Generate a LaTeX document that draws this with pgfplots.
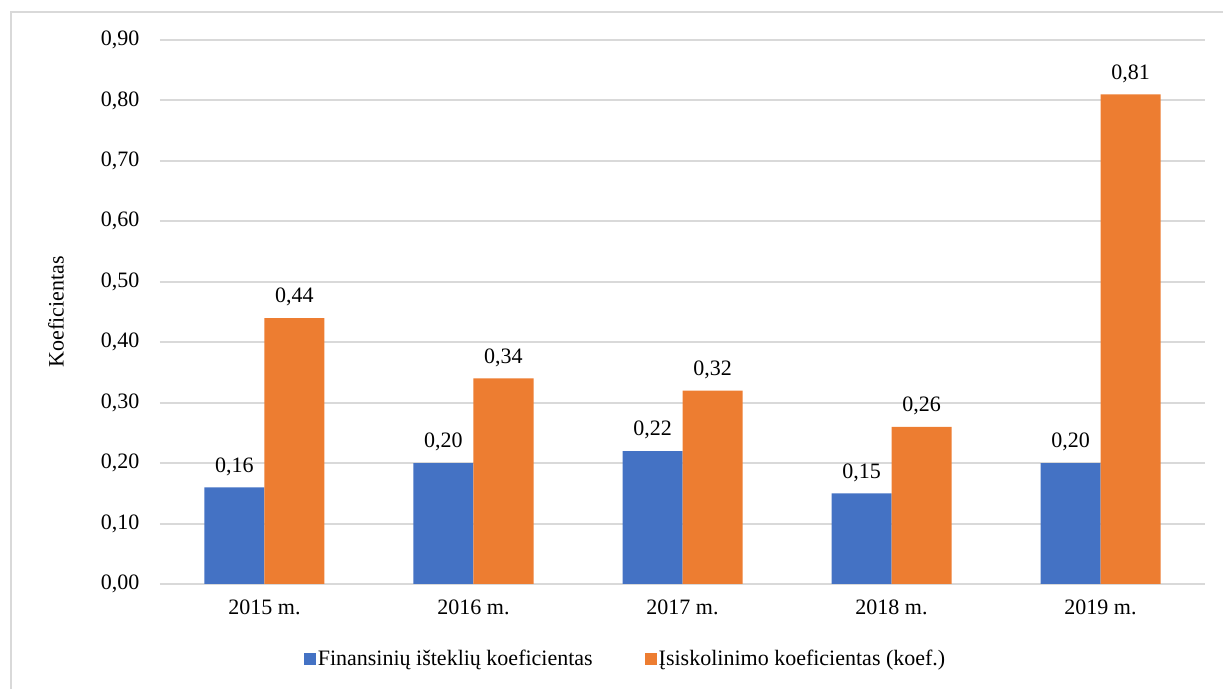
\documentclass[border=0pt]{standalone}
\usepackage{fontspec}
\setmainfont{Liberation Serif}
\usepackage{pgfplots}
\pgfplotsset{compat=1.18}
\definecolor{serA}{HTML}{4472C4}
\definecolor{serB}{HTML}{ED7D31}
\definecolor{gridgray}{HTML}{D9D9D9}
\pgfkeys{/pgf/number format/commafix/.style={
  /pgf/number format/fixed, /pgf/number format/fixed zerofill,
  /pgf/number format/precision=2, /pgf/number format/use comma,
  /pgf/number format/assume math mode=true}}
\begin{document}
\fontsize{11}{13.2}\selectfont
\begin{tikzpicture}[x=0.5pt,y=0.5pt]
\useasboundingbox (0,0) rectangle (1223,689);
% chart frame
\draw[gridgray, line width=1pt] (11,0) -- (11,677) -- (1223,677);
\begin{axis}[
  at={(80pt,52.5pt)}, anchor=south west,
  scale only axis, width=522.5pt, height=272pt,
  ybar=0pt, bar width=30pt,
  xmin=-0.5, xmax=4.5, ymin=0, ymax=0.9,
  xtick={0,1,2,3,4},
  xticklabels={2015 m.,2016 m.,2017 m.,2018 m.,2019 m.},
  ytick={0,0.1,0.2,0.3,0.4,0.5,0.6,0.7,0.8,0.9},
  yticklabel style={/pgf/number format/commafix, xshift=-6.5pt},
  xticklabel style={yshift=-4pt},
  major tick length=0pt,
  axis line style={draw=none},
  ymajorgrids, grid style={gridgray, line width=1pt},
  ylabel={Koeficientas},
  ylabel style={at={(axis description cs:-0.0995,0.5)}, anchor=center},
  nodes near coords,
  nodes near coords style={/pgf/number format/commafix, yshift=2pt, black},
  legend columns=2,
  legend style={at={(axis description cs:0.4455,-0.1379)}, anchor=center, draw=none, fill=none,
    nodes={inner xsep=1pt},
    /tikz/every even column/.append style={column sep=25pt}},
  legend image code/.code={\fill[#1] (0pt,-3pt) rectangle (6pt,3pt);},
]
\addplot[fill=serA, draw=none] coordinates {(0,0.16) (1,0.20) (2,0.22) (3,0.15) (4,0.20)};
\addplot[fill=serB, draw=none] coordinates {(0,0.44) (1,0.34) (2,0.32) (3,0.26) (4,0.81)};
\legend{Finansinių išteklių koeficientas, Įsiskolinimo koeficientas (koef.)}
\end{axis}
\end{tikzpicture}
\end{document}
